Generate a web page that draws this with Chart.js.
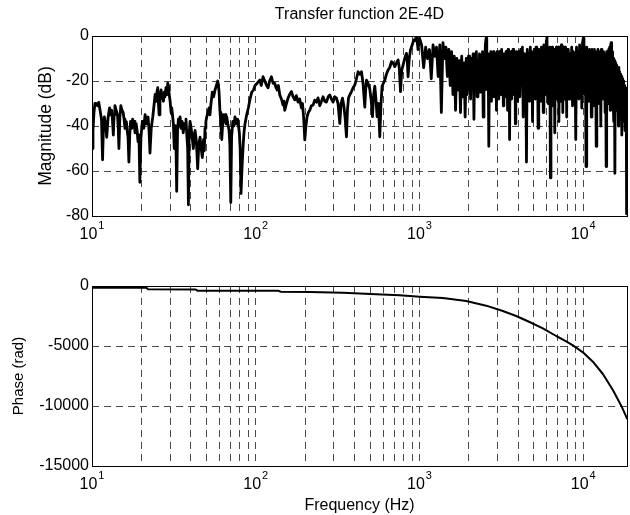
<!DOCTYPE html>
<html><head><meta charset="utf-8">
<script src="https://cdn.jsdelivr.net/npm/chart.js@4.4.1/dist/chart.umd.min.js"></script>
<style>
html,body{margin:0;padding:0;background:#fff;overflow:hidden;}
#wrap{position:relative;width:630px;height:515px;background:#fff;}
canvas{position:absolute;left:0;}
</style></head><body>
<div id="wrap">
<canvas id="c1" width="630" height="260" style="top:0px"></canvas>
<canvas id="c2" width="630" height="255" style="top:260px"></canvas>
</div>
<script>
// ---------- text ----------
const titleText = 'Transfer function 2E-4D';
const magLabel = 'Magnitude (dB)';
const phaseLabel = 'Phase (rad)';
const freqLabel = 'Frequency (Hz)';

// ---------- axes ----------
const xMin = 10, xMax = 18500;
const xGridValues = [10,20,30,40,50,60,70,80,90,100,200,300,400,500,600,700,800,900,1000,2000,3000,4000,5000,6000,7000,8000,9000,10000];
const xMajorValues = [10,100,1000,10000];
const xMajorExponents = ['1','2','3','4'];
const magTicks = [0,-20,-40,-60,-80];
const phaseTicks = [0,-5000,-10000,-15000];

// ---------- magnitude (Hz, dB) ----------
const magLow = [
[10,-50],[10.14,-42],[10.28,-34],[10.42,-30],[10.58,-30],[10.8,-31],[11.0,-29.5],[11.2,-33],[11.43,-37],[11.6,-55],[11.75,-40],[11.9,-36],[12.1,-39],[12.3,-45],[12.55,-36],[12.8,-32],[13.0,-35],[13.2,-33],[13.35,-38],[13.5,-44],[13.65,-35],[13.8,-31],[14.05,-33],[14.3,-35],[14.45,-40],[14.6,-50],[14.8,-36],[15.0,-31],[15.25,-33],[15.5,-34],[15.7,-37],[15.9,-41],[16.2,-38],[16.4,-42],[16.6,-45],[16.8,-56],[17.0,-44],[17.2,-38],[17.5,-41],[17.7,-37],[17.9,-40],[18.1,-38],[18.3,-43],[18.6,-39],[18.85,-42],[19.1,-47],[19.35,-44],[19.6,-65],[19.9,-45],[20.3,-38],[20.7,-41],[21.1,-35],[21.5,-39],[22.0,-36],[22.3,-42],[22.6,-52],[23.0,-41],[23.5,-36],[23.9,-31],[24.3,-26],[24.7,-29],[25.0,-24],[25.2,-23],[25.45,-30],[25.7,-35],[26.0,-28],[26.4,-24],[26.8,-27],[27.3,-29],[27.6,-25],[27.9,-27],[28.3,-23],[28.7,-26],[29.0,-21],[29.3,-22],[29.6,-26],[30.0,-29],[30.4,-34],[30.7,-32],[31.1,-36],[31.4,-39],[31.8,-50],[32.2,-40],[32.5,-44],[32.9,-69],[33.3,-42],[33.7,-37],[34.1,-40],[34.5,-36],[35.0,-41],[35.5,-38],[36.1,-43],[36.5,-39],[37.0,-41],[37.5,-37],[38.0,-45],[38.4,-50],[38.8,-75],[39.2,-44],[39.7,-38],[40.3,-41],[40.9,-45],[41.6,-50],[42.1,-44],[42.6,-42],[43.4,-47],[44.2,-59],[44.9,-48],[45.7,-45],[46.4,-50],[47.2,-54],[48.0,-46],[48.5,-51],[49.0,-41],[49.6,-38],[50.2,-36],[51.0,-34],[51.8,-32],[52.5,-35],[53.3,-30],[54.3,-25],[55.3,-27],[56.4,-24],[57.5,-22],[58.6,-20],[59.2,-22],[59.7,-25],[60.5,-34],[61.2,-39],[62.0,-46],[62.7,-40],[63.4,-35],[64.2,-38],[65.0,-35],[65.8,-39],[66.5,-36],[67.5,-39],[68.7,-42],[69.5,-48],[70.4,-74],[71.2,-45],[72.4,-38],[73.5,-40],[74.7,-36],[76.0,-39],[77.6,-37],[78.5,-40],[79.4,-43],[80.3,-50],[81.3,-70],[82.5,-58],[84.0,-47],[85.0,-42],[86.0,-39],[88.0,-35],[90.1,-32],[92.3,-28],[94.5,-25],[96.8,-24],[99.0,-22]
];
const magMid = [
[102,-21],[105.8,-19.6],[108,-22],[110.8,-18.1],[113.5,-20],[116.2,-21.8],[118.9,-23],[121.5,-20],[124.7,-18.1],[127.5,-21],[130.6,-21],[133,-23],[135,-24],[137.5,-22],[140.2,-26.2],[143.5,-28],[146.8,-30.7],[148.5,-29],[150.4,-33],[154,-30],[157.5,-27.6],[161,-26],[165.2,-24.7],[169,-27],[173.1,-28.4],[177,-26.5],[181.3,-29.4],[185.5,-28],[190.2,-32],[193,-30],[196,-36],[199.3,-46.2],[202.5,-40],[205.8,-35.8],[209.5,-34],[213.8,-33],[218.5,-31],[223.9,-30.7],[229,-28.5],[234.9,-29.4],[240,-27.5],[246,-31],[252,-29],[257.7,-27],[264,-29],[270.3,-29.4],[277,-27],[283.2,-26.2],[290,-28],[296.6,-29.4],[304,-27],[311.2,-27.6],[318,-30],[326,-38.8],[332,-30],[338.6,-27.6],[345,-31],[351,-36],[358.1,-44.8],[363,-33],[368.4,-27.6],[376,-26],[384.3,-24.7],[393,-23],[402.6,-21.8],[412,-19],[421.7,-15.9],[432,-17],[442.3,-15.9],[452,-21],[463.4,-31.6],[469,-24],[474.6,-19.6],[485,-21],[497.1,-23.6],[506,-28],[516.3,-35.8],[525,-26],[533.3,-22.3],[542,-28],[550.8,-35.8],[561,-30],[572.1,-44.8],[582,-30],[590.9,-22.3],[602,-21],[613.8,-19.6],[628,-17],[643,-15.1],[658,-14],[674.5,-11.4],[690,-12],[706.5,-13.6],[723,-12],[740.1,-10.6],[752,-14],[765.5,-24.7],[780,-15],[793.8,-12.9],[812,-10],[832.7,-7.7],[842,-11],[851.6,-18.1],[866,-10],[881,-6.2],[902,-4],[923,-1.8],[940,-2],[958.7,0],[970,-3],[980,-6]
];
const magHigh1 = [
[1000,-1],[1030,-4],[1060,-14],[1090,-5],[1120,-10],[1150,-6],[1180,-19],[1210,-4],[1240,-9],[1270,-5],[1300,-18],[1330,-4],[1360,-34],[1390,-3],[1420,-10],[1450,-5],[1480,-18],[1510,-6],[1540,-22],[1570,-7],[1600,-26],[1630,-9],[1660,-33],[1690,-10],[1720,-24],[1750,-11],[1780,-34],[1810,-9],[1840,-27],[1870,-12],[1900,-36],[1930,-10],[1960,-26],[1990,-9]
];
const magHigh2 = [
[2025,-9],[2050,-28],[2075,-10],[2100,-22],[2125,-8],[2150,-37],[2175,-9],[2200,-24],[2225,-7],[2250,-27],[2275,-11],[2300,-21],[2325,-8],[2350,-25],[2375,-9],[2400,-23],[2425,-7],[2450,-36],[2475,-8],[2500,-24],[2525,-4],[2550,-1],[2575,-12],[2600,-24],[2625,-8],[2650,-49],[2675,-9],[2700,-26],[2725,-7],[2750,-29],[2775,-10],[2800,-22],[2825,-7],[2850,-27],[2875,-11],[2900,-21],[2925,-8],[2950,-33],[2975,-7],[3000,-25],[3025,-9],[3050,-28],[3075,-7],[3100,-21],[3125,-10],[3150,-26],[3175,-6],[3200,-23],[3225,-9],[3250,-31],[3275,-8],[3300,-22],[3325,-10],[3350,-27],[3375,-7],[3400,-21],[3425,-9],[3450,-33],[3475,-6],[3500,-25],[3525,-8],[3550,-46],[3575,-9],[3600,-24],[3625,-7],[3650,-28],[3675,-8],[3700,-21],[3725,-6],[3750,-26],[3775,-9],[3800,-22],[3825,-7],[3850,-39],[3875,-8],[3900,-25],[3925,-7],[3950,-29],[3975,-9],[4000,-22]
];
const magHigh3 = [
[4050,-7],[4100,-27],[4150,-6],[4200,-22],[4250,-5],[4300,-36],[4350,-8],[4400,-25],[4450,-9],[4500,-56],[4550,-6],[4600,-24],[4650,-8],[4700,-29],[4750,-5],[4800,-22],[4850,-7],[4900,-38],[4950,-9],[5000,-25],[5050,-6],[5100,-28],[5150,-5],[5200,-23],[5250,-8],[5300,-41],[5350,-6],[5400,-24],[5450,-9],[5500,-29],[5550,-5],[5600,-22],[5650,-7],[5700,-34],[5750,-4],[5800,-24],[5850,-6],[5900,-26],[5950,-2],[6000,0],[6050,-16],[6100,-30],[6150,-6],[6200,-23],[6250,-5],[6300,-63],[6350,-7],[6400,-25],[6450,-5],[6500,-31],[6550,-8],[6600,-22],[6650,-6],[6700,-43],[6750,-8],[6800,-24],[6850,-5],[6900,-28],[6950,-7],[7000,-23],[7050,-5],[7100,-38],[7150,-8],[7200,-25],[7250,-6],[7300,-29],[7350,-4],[7400,-22],[7450,-7],[7500,-34],[7550,-5],[7600,-24],[7650,-8],[7700,-28],[7750,-5],[7800,-23],[7850,-6],[7900,-36],[7950,-8],[8000,-25]
];
const magHigh4 = [
[8100,-6],[8200,-28],[8300,-8],[8400,-23],[8500,-5],[8600,-31],[8700,-7],[8800,-24],[8900,-8],[9000,-46],[9100,-5],[9200,-25],[9300,-7],[9400,-28],[9500,-4],[9600,-22],[9700,-7],[9800,-32],[9900,-3],[10000,-1],[10100,-18],[10200,-26],[10300,-6],[10400,-58],[10500,-5],[10600,-24],[10700,-8],[10800,-29],[10900,-6],[11000,-23],[11100,-8],[11200,-36],[11300,-6],[11400,-25],[11500,-8],[11600,-31],[11700,-6],[11800,-24],[11900,-9],[12000,-49],[12100,-7],[12200,-25],[12300,-6],[12400,-30],[12500,-9],[12600,-23],[12700,-7],[12800,-40],[12900,-6],[13000,-25],[13100,-9],[13200,-28],[13300,-7],[13400,-24],[13500,-10],[13600,-34],[13700,-8],[13800,-58],[13900,-7],[14000,-25],[14100,-9],[14200,-30],[14300,-6],[14400,-23],[14500,-5],[14600,-33],[14700,-4],[14800,-3],[14900,-20],[15000,-28],[15100,-7],[15200,-25],[15300,-10],[15400,-38],[15500,-11],[15600,-61],[15700,-12],[15800,-27],[15900,-13],[16000,-33],[16100,-14],[16200,-28],[16300,-15],[16400,-40],[16500,-14],[16600,-30],[16700,-16],[16800,-36],[16900,-17],[17000,-31],[17100,-18],[17200,-44],[17300,-19],[17400,-32],[17500,-20],[17600,-38],[17700,-21],[17800,-34],[17900,-22],[18000,-42],[18100,-23],[18200,-36],[18300,-25],[18400,-79]
];

// ---------- phase (Hz, rad) ----------
const phasePts = [
[10,-140],[21.5,-150],[22,-280],[43,-290],[44,-390],[138,-400],[142,-480],[214,-490],[341,-556],[544,-694],[755,-778],[1000,-889],[1388,-1000],[1928,-1250],[2555,-1639],[3228,-2083],[3894,-2500],[4699,-3000],[5667,-3528],[6838,-4167],[7870,-4611],[8643,-4944],[9948,-5528],[11450,-6306],[13180,-7333],[15170,-8667],[17060,-9972],[18390,-10950],[18500,-11100]
];

// ---------- style ----------
const FONT = '"Liberation Sans", Arial, Helvetica, sans-serif';
Chart.defaults.font.family = FONT;
Chart.defaults.font.size = 16;
Chart.defaults.color = '#000';
const gridColor = '#4a4a4a';
const gridDash = [7,5];

const toXY = arr => arr.map(p => ({x: p[0], y: p[1]}));

const boxPlugin = {
  id: 'box',
  afterDraw(chart) {
    const ca = chart.chartArea, ctx = chart.ctx;
    ctx.save();
    ctx.strokeStyle = '#000';
    ctx.lineWidth = 1;
    ctx.setLineDash([]);
    const l = Math.round(ca.left) + 0.5, t = Math.round(ca.top) + 0.5;
    const r = Math.round(ca.right) + 0.5, b = Math.round(ca.bottom) + 0.5;
    ctx.strokeRect(l, t, r - l, b - t);
    ctx.restore();
  }
};

const expLabelPlugin = {
  id: 'expLabels',
  afterDraw(chart) {
    const xs = chart.scales.x, ctx = chart.ctx, ca = chart.chartArea;
    ctx.save();
    ctx.fillStyle = '#000';
    ctx.textBaseline = 'alphabetic';
    ctx.textAlign = 'left';
    xMajorValues.forEach((v, i) => {
      const e = xMajorExponents[i];
      const x = xs.getPixelForValue(v);
      ctx.font = '16px ' + FONT;
      const w1 = ctx.measureText('10').width;
      ctx.font = '11px ' + FONT;
      const w2 = ctx.measureText(e).width;
      const x0 = x - (w1 + w2 + 1) / 2;
      const yb = ca.bottom + 23;
      ctx.font = '16px ' + FONT;
      ctx.fillText('10', x0, yb);
      ctx.font = '11px ' + FONT;
      ctx.fillText(e, x0 + w1 + 1, yb - 10);
    });
    ctx.restore();
  }
};

function xAxis(h, withTitle) {
  return {
    type: 'logarithmic', min: xMin, max: xMax,
    afterBuildTicks: s => { s.ticks = xGridValues.map(v => ({value: v})); },
    afterFit: s => { s.height = h; },
    ticks: { autoSkip: false, maxRotation: 0, callback: () => '' },
    grid: { color: gridColor, lineWidth: 1, drawTicks: false },
    border: { display: false, dash: gridDash },
    title: withTitle
      ? { display: true, text: freqLabel, color: '#000', font: {size: 16}, padding: {top: 0, bottom: 0} }
      : { display: false }
  };
}

function yAxis(min, max, tickVals, label, titlePad, titleSize) {
  return {
    type: 'linear', min: min, max: max,
    afterBuildTicks: s => { s.ticks = tickVals.map(v => ({value: v})); },
    afterFit: s => { s.width = 92; },
    ticks: { padding: 3, color: '#000', font: {size: 16}, autoSkip: false, callback: v => String(v) },
    grid: { color: gridColor, lineWidth: 1, drawTicks: false },
    border: { display: false, dash: gridDash },
    title: { display: true, text: label, color: '#000', font: {size: titleSize}, padding: {top: titlePad, bottom: 0} }
  };
}

new Chart(document.getElementById('c1'), {
  type: 'line',
  data: { datasets: [{
    data: toXY(magLow.concat(magMid, magHigh1, magHigh2, magHigh3, magHigh4)),
    borderColor: '#000', borderWidth: 2.8, pointRadius: 0, fill: false, tension: 0,
    borderJoinStyle: 'round', borderCapStyle: 'round'
  }]},
  options: {
    responsive: false, animation: false, devicePixelRatio: 1, events: [],
    layout: { padding: {left: 0, right: 3, top: 0, bottom: 0} },
    plugins: {
      legend: {display: false}, tooltip: {enabled: false},
      title: { display: true, text: titleText, color: '#000', fullSize: false,
               font: {size: 16, weight: 'normal'}, padding: {top: 5.4, bottom: 11.4} }
    },
    scales: { x: xAxis(44, false), y: yAxis(-80, 0, magTicks, magLabel, 35.5, 17.5) }
  },
  plugins: [boxPlugin, expLabelPlugin]
});

new Chart(document.getElementById('c2'), {
  type: 'line',
  data: { datasets: [{
    data: toXY(phasePts),
    borderColor: '#000', borderWidth: 2, pointRadius: 0, fill: false, tension: 0,
    borderJoinStyle: 'round'
  }]},
  options: {
    responsive: false, animation: false, devicePixelRatio: 1, events: [],
    layout: { padding: {left: 0, right: 3, top: 26, bottom: 0} },
    plugins: { legend: {display: false}, tooltip: {enabled: false} },
    scales: { x: xAxis(49, true), y: yAxis(-15000, 0, phaseTicks, phaseLabel, 10, 15) }
  },
  plugins: [boxPlugin, expLabelPlugin]
});
</script>
</body></html>
